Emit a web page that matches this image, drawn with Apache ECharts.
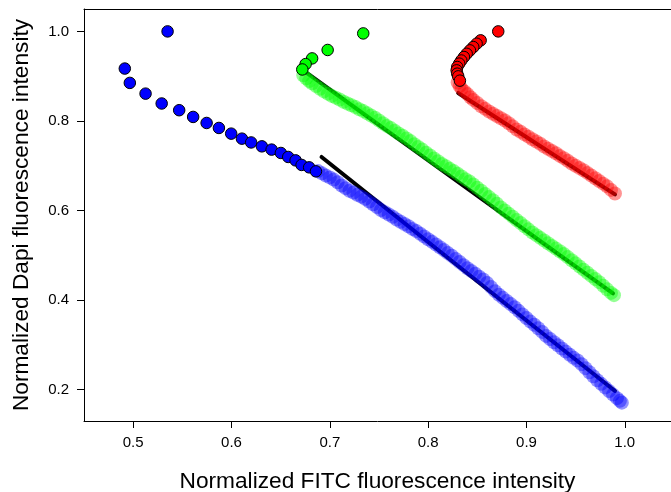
<!DOCTYPE html>
<html><head><meta charset="utf-8">
<script src="https://cdn.jsdelivr.net/npm/echarts@6/dist/echarts.min.js"></script>
<style>html,body{margin:0;padding:0;background:#fff}#c{width:671px;height:492px}</style>
</head><body><div id="c"></div>
<script>
const xTicks = [0.5, 0.6, 0.7, 0.8, 0.9, 1.0];
const yTicks = [0.2, 0.4, 0.6, 0.8, 1.0];
const xTitle = 'Normalized FITC fluorescence intensity';
const yTitle = 'Normalized Dapi fluorescence intensity';

// opaque early-time points
const blueDots = [[0.535,1.0],[0.4915,0.917],[0.4966,0.885],[0.5126,0.861],[0.529,0.839],[0.5468,0.824],[0.561,0.809],[0.5747,0.7955],[0.5872,0.7844],[0.5997,0.7717],[0.6106,0.7605],[0.620,0.752],[0.6309,0.7433],[0.6408,0.736],[0.6502,0.7285],[0.6577,0.7196],[0.6652,0.712],[0.6713,0.7018],[0.679,0.6964],[0.6859,0.6875]];
const greenDots = [[0.734,0.9955],[0.6978,0.9585],[0.682,0.9397],[0.6754,0.927],[0.672,0.915]];
const redDots = [[0.8713,1.0],[0.8534,0.98],[0.8493,0.9725],[0.8459,0.965],[0.8425,0.9576],[0.8392,0.950],[0.8364,0.9428],[0.8337,0.935],[0.8316,0.928],[0.8296,0.9205],[0.829,0.913],[0.8296,0.9056],[0.8306,0.8996],[0.8323,0.89]];

// translucent later-time clouds
const blueCloud = [[0.688,0.688],[0.692,0.683],[0.696,0.678],[0.700,0.674],[0.704,0.669],[0.708,0.663],[0.712,0.656],[0.716,0.650],[0.720,0.644],[0.724,0.640],[0.728,0.635],[0.732,0.631],[0.736,0.626],[0.740,0.620],[0.744,0.614],[0.748,0.608],[0.752,0.601],[0.756,0.596],[0.760,0.591],[0.764,0.586],[0.768,0.580],[0.772,0.575],[0.776,0.570],[0.780,0.565],[0.784,0.559],[0.788,0.554],[0.792,0.548],[0.796,0.542],[0.800,0.536],[0.804,0.530],[0.808,0.524],[0.812,0.518],[0.816,0.512],[0.820,0.505],[0.824,0.499],[0.828,0.492],[0.832,0.485],[0.836,0.478],[0.840,0.471],[0.844,0.465],[0.848,0.459],[0.852,0.452],[0.856,0.446],[0.860,0.438],[0.864,0.429],[0.868,0.420],[0.872,0.412],[0.876,0.405],[0.880,0.398],[0.884,0.391],[0.888,0.384],[0.892,0.376],[0.896,0.368],[0.900,0.360],[0.904,0.352],[0.908,0.345],[0.912,0.337],[0.916,0.329],[0.920,0.320],[0.924,0.313],[0.928,0.306],[0.932,0.299],[0.936,0.292],[0.940,0.285],[0.944,0.278],[0.948,0.271],[0.952,0.265],[0.956,0.257],[0.960,0.248],[0.964,0.239],[0.968,0.230],[0.972,0.221],[0.976,0.213],[0.980,0.205],[0.984,0.197],[0.988,0.189],[0.992,0.181],[0.995,0.175],[0.997,0.171]];
const greenCloud = [[0.673,0.902],[0.676,0.895],[0.679,0.889],[0.682,0.884],[0.686,0.878],[0.690,0.872],[0.694,0.866],[0.698,0.861],[0.702,0.856],[0.706,0.852],[0.710,0.848],[0.714,0.843],[0.718,0.839],[0.722,0.835],[0.726,0.831],[0.730,0.826],[0.734,0.822],[0.738,0.817],[0.742,0.812],[0.746,0.807],[0.750,0.801],[0.754,0.795],[0.758,0.789],[0.762,0.784],[0.766,0.778],[0.770,0.772],[0.774,0.767],[0.778,0.761],[0.782,0.755],[0.786,0.748],[0.790,0.742],[0.794,0.736],[0.798,0.729],[0.802,0.723],[0.806,0.716],[0.810,0.710],[0.814,0.704],[0.818,0.699],[0.822,0.693],[0.826,0.688],[0.830,0.682],[0.834,0.676],[0.838,0.670],[0.842,0.665],[0.846,0.658],[0.850,0.651],[0.854,0.644],[0.858,0.637],[0.862,0.630],[0.866,0.623],[0.870,0.615],[0.874,0.607],[0.878,0.600],[0.882,0.593],[0.886,0.586],[0.890,0.579],[0.894,0.572],[0.898,0.565],[0.902,0.558],[0.906,0.551],[0.910,0.545],[0.914,0.539],[0.918,0.533],[0.922,0.527],[0.926,0.521],[0.930,0.515],[0.934,0.509],[0.938,0.503],[0.942,0.496],[0.946,0.489],[0.950,0.482],[0.954,0.475],[0.958,0.468],[0.962,0.461],[0.966,0.454],[0.970,0.447],[0.974,0.440],[0.978,0.432],[0.982,0.424],[0.986,0.416],[0.989,0.411]];
const redCloud = [[0.830,0.886],[0.832,0.878],[0.834,0.872],[0.837,0.866],[0.840,0.860],[0.843,0.853],[0.846,0.847],[0.850,0.840],[0.854,0.833],[0.858,0.827],[0.862,0.821],[0.866,0.816],[0.870,0.811],[0.874,0.806],[0.878,0.801],[0.882,0.795],[0.886,0.788],[0.890,0.781],[0.894,0.776],[0.898,0.770],[0.902,0.765],[0.906,0.759],[0.910,0.754],[0.914,0.749],[0.918,0.743],[0.922,0.738],[0.926,0.733],[0.930,0.728],[0.934,0.722],[0.938,0.717],[0.942,0.711],[0.946,0.705],[0.950,0.700],[0.954,0.695],[0.958,0.690],[0.962,0.684],[0.966,0.678],[0.970,0.672],[0.974,0.666],[0.978,0.660],[0.982,0.654],[0.986,0.646],[0.990,0.638]];

// fitted lines (start, end)
const blueFit = [[0.6916,0.7196],[0.99,0.197]];
const greenFit = [[0.6744,0.9106],[0.988,0.415]];
const redFit = [[0.8306,0.8625],[0.990,0.636]];

const FONT = '"Liberation Sans", Arial, sans-serif';
const chart = echarts.init(document.getElementById('c'), null, {renderer: 'canvas'});

function fitSeries(d) {
  return {type: 'line', data: d, symbol: 'none', lineStyle: {color: '#000', width: 4, cap: 'round'}, z: 2, silent: true};
}
function cloudSeries(d, color) {
  return {type: 'scatter', data: d, symbol: 'circle', symbolSize: 14, itemStyle: {color: color, opacity: 0.42}, z: 3, silent: true};
}
function dotSeries(d, color) {
  return {type: 'scatter', data: d, symbol: 'circle', symbolSize: 11.5, itemStyle: {color: color, borderColor: '#000', borderWidth: 1, opacity: 1}, z: 4, silent: true};
}

chart.setOption({
  animation: false,
  backgroundColor: '#fff',
  grid: {left: 84, top: 9, right: 0, bottom: 71, show: false, containLabel: false, outerBoundsMode: 'none'},
  xAxis: [{
    type: 'value', min: 0.45, max: 1.047, position: 'bottom',
    name: xTitle, nameLocation: 'middle', nameGap: 49,
    nameTextStyle: {fontFamily: FONT, fontSize: 22.7, color: '#000'},
    axisLine: {show: true, onZero: false, lineStyle: {color: '#000', width: 1}},
    axisTick: {show: true, inside: false, length: 7, lineStyle: {color: '#000'}, customValues: xTicks},
    axisLabel: {fontFamily: FONT, fontSize: 15, color: '#000', margin: 14, customValues: xTicks, formatter: v => v.toFixed(1)},
    splitLine: {show: false}
  }, {
    type: 'value', min: 0.45, max: 1.047, position: 'top',
    axisLine: {show: true, onZero: false, lineStyle: {color: '#000', width: 1}},
    axisTick: {show: false}, axisLabel: {show: false}, splitLine: {show: false}
  }],
  yAxis: {
    type: 'value', min: 0.13, max: 1.05,
    name: yTitle, nameLocation: 'middle', nameGap: 51, nameRotate: 90,
    nameTextStyle: {fontFamily: FONT, fontSize: 22.7, color: '#000'},
    axisLine: {show: true, onZero: false, lineStyle: {color: '#000', width: 1}},
    axisTick: {show: true, inside: false, length: 7, lineStyle: {color: '#000'}, customValues: yTicks},
    axisLabel: {fontFamily: FONT, fontSize: 15, color: '#000', margin: 15, customValues: yTicks, formatter: v => v.toFixed(1)},
    splitLine: {show: false}
  },
  series: [
    fitSeries(blueFit), fitSeries(greenFit), fitSeries(redFit),
    cloudSeries(blueCloud, '#0000ff'), cloudSeries(greenCloud, '#00ff00'), cloudSeries(redCloud, '#ff0000'),
    dotSeries(blueDots, '#0000ff'), dotSeries(greenDots, '#00ff00'), dotSeries(redDots, '#ff0000')
  ]
});
</script></body></html>
